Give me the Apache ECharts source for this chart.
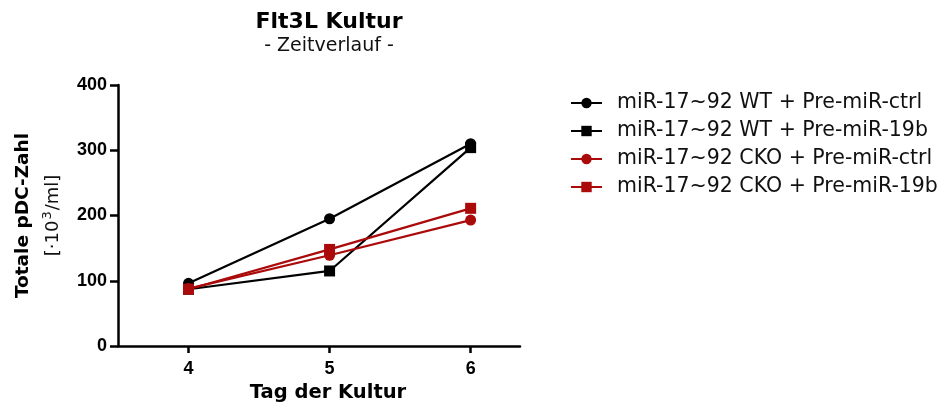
<!DOCTYPE html>
<html><head><meta charset="utf-8">
<script src="https://cdn.jsdelivr.net/npm/echarts@6/dist/echarts.min.js"></script>
<style>html,body{margin:0;padding:0;background:#fff}#c{width:949px;height:410px}</style>
</head><body><div id="c"></div>
<script>
const days = [4, 5, 6];
const wtCtrl = [96, 195, 310];
const wt19b = [87, 115, 304];
const ckoCtrl = [88, 139, 193];
const cko19b = [87, 148, 211];
const names = ['miR-17~92 WT + Pre-miR-ctrl','miR-17~92 WT + Pre-miR-19b','miR-17~92 CKO + Pre-miR-ctrl','miR-17~92 CKO + Pre-miR-19b'];
const yTicks = [0, 100, 200, 300, 400];

const F = '"DejaVu Sans", "Liberation Sans", Arial, sans-serif';
const FA = '"Liberation Sans", Arial, sans-serif';
const black = '#000000', red = '#aa0a0a';
function mk(name, vals, color, sym) {
  return {name, type:'line', data: days.map((d,i)=>[d, vals[i]]), symbol: sym, symbolSize: 11,
    lineStyle:{color, width:2.2}, itemStyle:{color}, animation:false};
}
const legendTops = [103, 131, 159, 187];
const chart = echarts.init(document.getElementById('c'));
chart.setOption({
  animation:false,
  title:[{text:'Flt3L Kultur', left:329, top:9, textAlign:'center', padding:0, textStyle:{fontFamily:F, fontWeight:'bold', fontSize:22, lineHeight:26, color:'#000'}},
         {text:'- Zeitverlauf -', left:329, top:35, textAlign:'center', padding:0, textStyle:{fontFamily:F, fontWeight:'normal', fontSize:19, lineHeight:22, color:'#111'}}],
  grid:{left:118, top:85, right:429, bottom:64, containLabel:false},
  legend: names.map((n, i) => ({orient:'vertical', left:570, top:legendTops[i]-12, padding:0, itemWidth:31, itemHeight:13,
    textStyle:{fontFamily:F, fontSize:20.5, lineHeight:24, color:'#111', padding:[0,0,0,10]}, data:[n]})),
  xAxis:{type:'value', min:3.5, max:6.35,
    name:'Tag der Kultur', nameLocation:'middle', nameGap:34,
    nameTextStyle:{fontFamily:F, fontWeight:'bold', fontSize:19.5, color:'#000', padding:[0,0,0,18]},
    axisLine:{lineStyle:{color:'#000', width:2.5}},
    axisTick:{length:7, lineStyle:{width:2.5, color:'#000'}, customValues:days},
    axisLabel:{fontFamily:FA, fontWeight:'bold', fontSize:18, color:'#000', margin:14, customValues:days},
    splitLine:{show:false}},
  yAxis:{type:'value', min:0, max:400, interval:100,
    name:'{a|Totale pDC-Zahl}\n{b|[·10}{c|3}{b|/ml]}', nameLocation:'middle', nameGap:50,
    nameTextStyle:{rich:{a:{fontFamily:F, fontWeight:'bold', fontSize:18.5, color:'#000', lineHeight:30},
                         b:{fontFamily:F, fontSize:18, color:'#111', lineHeight:30},
                         c:{fontFamily:F, fontSize:13, color:'#111', lineHeight:30, padding:[0,1,10,1]}}},
    axisLine:{show:true, lineStyle:{color:'#000', width:2.5}},
    axisTick:{show:true, length:8, lineStyle:{width:2.5, color:'#000'}},
    axisLabel:{fontFamily:FA, fontWeight:'bold', fontSize:18, color:'#000', margin:11},
    splitLine:{show:false}},
  series:[mk(names[0], wtCtrl, black, 'circle'), mk(names[1], wt19b, black, 'rect'),
          mk(names[2], ckoCtrl, red, 'circle'), mk(names[3], cko19b, red, 'rect')]
});
</script></body></html>
